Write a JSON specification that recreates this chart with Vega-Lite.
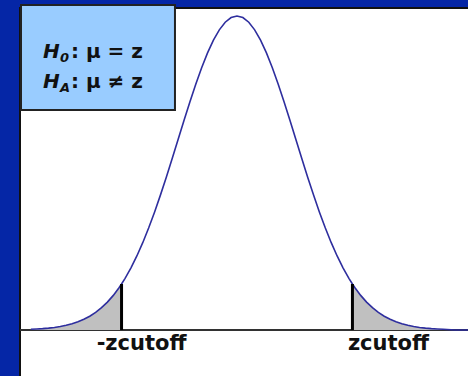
{
  "$schema": "https://vega.github.io/schema/vega-lite/v6.json",
  "width": 449,
  "height": 369,
  "autosize": {"type": "none"},
  "padding": {"left": 20, "top": 8, "right": 0, "bottom": 0},
  "background": "#0526a6",
  "config": {"view": {"fill": "white", "stroke": "#111111", "strokeWidth": 2}},
  "datasets": {
    "curve": [
      {"z": -3.5, "d": 0.00219}, {"z": -3.4, "d": 0.00309}, {"z": -3.3, "d": 0.00432}, {"z": -3.2, "d": 0.00598},
      {"z": -3.1, "d": 0.00819}, {"z": -3.0, "d": 0.01111}, {"z": -2.9, "d": 0.01492}, {"z": -2.8, "d": 0.01984},
      {"z": -2.7, "d": 0.02612}, {"z": -2.6, "d": 0.03405}, {"z": -2.5, "d": 0.04394}, {"z": -2.4, "d": 0.05613},
      {"z": -2.3, "d": 0.07101}, {"z": -2.2, "d": 0.08892}, {"z": -2.1, "d": 0.11025}, {"z": -2.0, "d": 0.13534},
      {"z": -1.96, "d": 0.14649}, {"z": -1.9, "d": 0.16448}, {"z": -1.8, "d": 0.1979}, {"z": -1.7, "d": 0.23575},
      {"z": -1.6, "d": 0.27804}, {"z": -1.5, "d": 0.32465}, {"z": -1.4, "d": 0.37531}, {"z": -1.3, "d": 0.42956},
      {"z": -1.2, "d": 0.48675}, {"z": -1.1, "d": 0.54607}, {"z": -1.0, "d": 0.60653}, {"z": -0.9, "d": 0.66698},
      {"z": -0.8, "d": 0.72615}, {"z": -0.7, "d": 0.7827}, {"z": -0.6, "d": 0.83527}, {"z": -0.5, "d": 0.8825},
      {"z": -0.4, "d": 0.92312}, {"z": -0.3, "d": 0.956}, {"z": -0.2, "d": 0.9802}, {"z": -0.1, "d": 0.99501},
      {"z": 0.0, "d": 1.0},
      {"z": 0.1, "d": 0.99501}, {"z": 0.2, "d": 0.9802}, {"z": 0.3, "d": 0.956}, {"z": 0.4, "d": 0.92312},
      {"z": 0.5, "d": 0.8825}, {"z": 0.6, "d": 0.83527}, {"z": 0.7, "d": 0.7827}, {"z": 0.8, "d": 0.72615},
      {"z": 0.9, "d": 0.66698}, {"z": 1.0, "d": 0.60653}, {"z": 1.1, "d": 0.54607}, {"z": 1.2, "d": 0.48675},
      {"z": 1.3, "d": 0.42956}, {"z": 1.4, "d": 0.37531}, {"z": 1.5, "d": 0.32465}, {"z": 1.6, "d": 0.27804},
      {"z": 1.7, "d": 0.23575}, {"z": 1.8, "d": 0.1979}, {"z": 1.9, "d": 0.16448}, {"z": 1.96, "d": 0.14649},
      {"z": 2.0, "d": 0.13534}, {"z": 2.1, "d": 0.11025}, {"z": 2.2, "d": 0.08892}, {"z": 2.3, "d": 0.07101},
      {"z": 2.4, "d": 0.05613}, {"z": 2.5, "d": 0.04394}, {"z": 2.6, "d": 0.03405}, {"z": 2.7, "d": 0.02612},
      {"z": 2.8, "d": 0.01984}, {"z": 2.9, "d": 0.01492}, {"z": 3.0, "d": 0.01111}, {"z": 3.1, "d": 0.00819},
      {"z": 3.2, "d": 0.00598}, {"z": 3.3, "d": 0.00432}, {"z": 3.4, "d": 0.00309}, {"z": 3.5, "d": 0.00219},
      {"z": 3.7, "d": 0.0}, {"z": 3.95, "d": 0.0}
    ],
    "cutoffs": [
      {"z": -1.96, "d": 0.14649, "label": "-zcutoff"},
      {"z": 1.96, "d": 0.14649, "label": "zcutoff"}
    ]
  },
  "layer": [
    {
      "data": {"name": "curve"},
      "mark": {"type": "rule", "color": "#333333", "strokeWidth": 1.5},
      "encoding": {
        "y": {"datum": 0, "type": "quantitative", "scale": {"domain": [-0.1497, 1.0255], "nice": false, "zero": false}, "axis": null}
      }
    },
    {
      "data": {"name": "curve"},
      "transform": [{"filter": "datum.z <= -1.96"}],
      "mark": {"type": "area", "color": "#c0c0c0", "opacity": 1},
      "encoding": {
        "x": {"field": "z", "type": "quantitative", "scale": {"domain": [-3.684, 3.939], "nice": false, "zero": false}, "axis": null},
        "y": {"field": "d", "type": "quantitative", "scale": {"domain": [-0.1497, 1.0255], "nice": false, "zero": false}, "axis": null},
        "y2": {"datum": 0}
      }
    },
    {
      "data": {"name": "curve"},
      "transform": [{"filter": "datum.z >= 1.96 && datum.z <= 3.5"}],
      "mark": {"type": "area", "color": "#c0c0c0", "opacity": 1},
      "encoding": {
        "x": {"field": "z", "type": "quantitative"},
        "y": {"field": "d", "type": "quantitative"},
        "y2": {"datum": 0}
      }
    },
    {
      "data": {"name": "curve"},
      "mark": {"type": "line", "color": "#2e2e9e", "strokeWidth": 1.6, "interpolate": "linear"},
      "encoding": {
        "x": {"field": "z", "type": "quantitative"},
        "y": {"field": "d", "type": "quantitative"}
      }
    },
    {
      "data": {"name": "cutoffs"},
      "mark": {"type": "rule", "color": "#000000", "strokeWidth": 3},
      "encoding": {
        "x": {"field": "z", "type": "quantitative"},
        "y": {"field": "d", "type": "quantitative"},
        "y2": {"datum": 0}
      }
    },
    {
      "data": {"name": "cutoffs"},
      "transform": [{"filter": "datum.z < 0"}],
      "mark": {"type": "text", "font": "DejaVu Sans", "fontWeight": "bold", "fontSize": 21, "color": "#111111", "align": "center", "baseline": "alphabetic", "dx": 20, "dy": 20},
      "encoding": {
        "x": {"field": "z", "type": "quantitative"},
        "y": {"datum": 0, "type": "quantitative"},
        "text": {"field": "label"}
      }
    },
    {
      "data": {"name": "cutoffs"},
      "transform": [{"filter": "datum.z > 0"}],
      "mark": {"type": "text", "font": "DejaVu Sans", "fontWeight": "bold", "fontSize": 21, "color": "#111111", "align": "center", "baseline": "alphabetic", "dx": 36, "dy": 20},
      "encoding": {
        "x": {"field": "z", "type": "quantitative"},
        "y": {"datum": 0, "type": "quantitative"},
        "text": {"field": "label"}
      }
    },
    {
      "data": {"values": [{"x": -3.667, "x2": -1.053, "y": 1.035, "y2": 0.7006}]},
      "mark": {"type": "rect", "fill": "#99ccff", "stroke": "#222222", "strokeWidth": 2},
      "encoding": {
        "x": {"field": "x", "type": "quantitative"},
        "x2": {"field": "x2"},
        "y": {"field": "y", "type": "quantitative"},
        "y2": {"field": "y2"}
      }
    },
    {
      "data": {"values": [{"line": "H0", "main": "H", "sub": "0", "rest": ": μ = z", "y": 0.866}, {"line": "HA", "main": "H", "sub": "A", "rest": ": μ ≠ z", "y": 0.7707}]},
      "layer": [
        {
          "mark": {"type": "text", "font": "DejaVu Sans", "fontWeight": "bold", "fontStyle": "italic", "fontSize": 20, "color": "#111111", "align": "left", "baseline": "alphabetic"},
          "encoding": {
            "x": {"datum": -3.294, "type": "quantitative"},
            "y": {"field": "y", "type": "quantitative"},
            "text": {"field": "main"}
          }
        },
        {
          "mark": {"type": "text", "font": "DejaVu Sans", "fontWeight": "bold", "fontStyle": "italic", "fontSize": 13, "color": "#111111", "align": "left", "baseline": "alphabetic", "dx": 17, "dy": 4},
          "encoding": {
            "x": {"datum": -3.294, "type": "quantitative"},
            "y": {"field": "y", "type": "quantitative"},
            "text": {"field": "sub"}
          }
        },
        {
          "mark": {"type": "text", "font": "DejaVu Sans", "fontWeight": "bold", "fontSize": 20, "color": "#111111", "align": "left", "baseline": "alphabetic", "dx": 28},
          "encoding": {
            "x": {"datum": -3.294, "type": "quantitative"},
            "y": {"field": "y", "type": "quantitative"},
            "text": {"field": "rest"}
          }
        }
      ]
    }
  ]
}
